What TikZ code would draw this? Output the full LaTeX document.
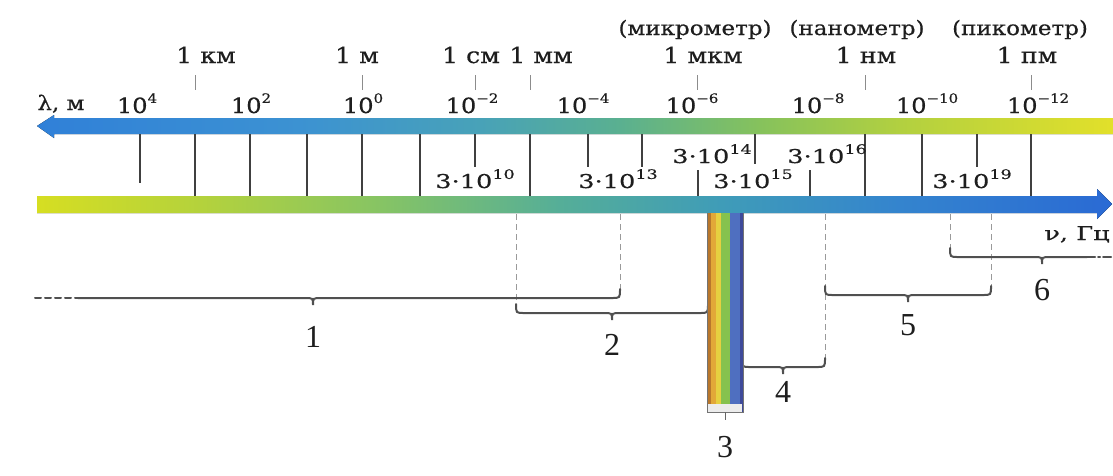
\documentclass[tikz,border=0pt]{standalone}
\usepackage{fontspec}
\setmainfont{DejaVu Serif}[FakeStretch=1.15, FakeBold=0.4]
\newfontfamily\widefont{DejaVu Serif}[FakeStretch=1.35, FakeBold=0.4]
\newfontfamily\numfont{Liberation Serif}
\usetikzlibrary{calc}
\definecolor{lA}{HTML}{3080D8}\definecolor{lB}{HTML}{3C92D2}\definecolor{lC}{HTML}{48A2B8}
\definecolor{lD}{HTML}{5AB090}\definecolor{lE}{HTML}{86C25C}\definecolor{lF}{HTML}{B2D040}\definecolor{lG}{HTML}{E2E02A}
\definecolor{nA}{HTML}{D6DE22}\definecolor{nB}{HTML}{B4D23C}\definecolor{nC}{HTML}{86C464}
\definecolor{nD}{HTML}{55AE98}\definecolor{nE}{HTML}{3F9CB8}\definecolor{nF}{HTML}{3484CE}\definecolor{nG}{HTML}{2A6AD4}
\definecolor{txt}{HTML}{1E1E1E}
\definecolor{brcol}{HTML}{505050}
\definecolor{tickcol}{HTML}{404040}
\definecolor{dashcol}{HTML}{9A9A9A}
\definecolor{sp1}{HTML}{B8772C}\definecolor{sp2}{HTML}{E2A838}\definecolor{sp3}{HTML}{E6D040}
\definecolor{sp4}{HTML}{86C24E}\definecolor{sp5}{HTML}{4F6FC0}\definecolor{sp6}{HTML}{3E4A9A}
\pgfdeclarehorizontalshading{lamshade}{100bp}{color(0bp)=(lA); color(25bp)=(lA); color(37.2bp)=(lB); color(45.6bp)=(lC); color(52.1bp)=(lD); color(58.6bp)=(lE); color(65.1bp)=(lF); color(75bp)=(lG); color(100bp)=(lG)}
\pgfdeclarehorizontalshading{nushade}{100bp}{color(0bp)=(nA); color(25bp)=(nA); color(32.6bp)=(nB); color(41bp)=(nC); color(49.3bp)=(nD); color(56.8bp)=(nE); color(65.1bp)=(nF); color(75bp)=(nG); color(100bp)=(nG)}
\newcommand\fa{\fontsize{20}{24}\selectfont}
\newcommand\fb{\fontsize{22}{26}\selectfont}
\newcommand\fc{\fontsize{21}{25}\selectfont}
\newcommand\fl{\fontsize{20}{24}\selectfont}
\newcommand\fd{\widefont\fontsize{19}{22}\selectfont}
\newcommand\supr[1]{\raisebox{0.48em}{\fontsize{13}{13}\selectfont #1}}
\newcommand\ubr[4]{%
\draw[brc] (#1,{#4-9}) .. controls (#1,#4) and (#1,#4) .. ({#1+8},#4) -- ({#2-8},#4) .. controls (#2,#4) and (#2,#4) .. (#2,{#4+7}) .. controls (#2,#4) and (#2,#4) .. ({#2+8},#4) -- ({#3-8},#4) .. controls (#3,#4) and (#3,#4) .. (#3,{#4-9});}
\begin{document}
\begin{tikzpicture}[x=1pt,y=-1pt,
  lab/.style={inner sep=0pt, anchor=base, text=txt},
  num/.style={inner sep=0pt, anchor=base, text=txt, font=\numfont\fontsize{32}{34}\selectfont},
  tk/.style={draw=tickcol, line width=1.3pt},
  tks/.style={draw=black!45, line width=1pt},
  brc/.style={draw=brcol, line width=2pt, line cap=round},
  dsh/.style={draw=dashcol, line width=1pt, dash pattern=on 6pt off 4pt}]
\useasboundingbox (0,0) rectangle (1113,475);
\fill[white] (0,0) rectangle (1113,475);
% arrows
\fill[shading=lamshade] (37,126) -- (54,115) -- (54,118) -- (1113,118) -- (1113,134) -- (54,134) -- (54,138) -- cycle;
\fill[shading=nushade] (37,196) -- (1097,196) -- (1097,189) -- (1112,204) -- (1097,219) -- (1097,213) -- (37,213) -- cycle;
% ticks between bars
\foreach \x in {195,250,307,362,420,530,865,922,1031} \draw[tk] (\x,134) -- (\x,196);
\draw[tk] (140,134) -- (140,183);
\foreach \x in {475,588,642,977} \draw[tk] (\x,134) -- (\x,167);
\draw[tk] (755,134) -- (755,164);
\foreach \x in {698,810} \draw[tk] (\x,170) -- (\x,196);
% ticks above
\foreach \x in {195,362,475,530,697,865,1031} \draw[tks] (\x,75) -- (\x,90);
% row 1
\node[lab,font=\fa] (mkm) at (695,35) {(микрометр)};
\node[lab,font=\fa] (nm) at (857,35) {(нанометр)};
\node[lab,font=\fa] (pm) at (1020,35) {(пикометр)};
% row 2
\node[lab,font=\fb] (u1) at (206,63) {1 км};
\node[lab,font=\fb] (u2) at (357,63) {1 м};
\node[lab,font=\fb] (u3) at (471,63) {1 см};
\node[lab,font=\fb] (u4) at (541,63) {1 мм};
\node[lab,font=\fb] (u5) at (703,63) {1 мкм};
\node[lab,font=\fb] (u6) at (866,63) {1 нм};
\node[lab,font=\fb] (u7) at (1027,63) {1 пм};
% row 3
\node[lab,font=\fl] (lam) at (61,110) {λ, м};
\node[lab,font=\fc] (w1) at (137,113) {10\supr{4}};
\node[lab,font=\fc] (w2) at (251,113) {10\supr{2}};
\node[lab,font=\fc] (w3) at (363,113) {10\supr{0}};
\node[lab,font=\fc] (w4) at (472,113) {10\supr{−2}};
\node[lab,font=\fc] (w5) at (583,113) {10\supr{−4}};
\node[lab,font=\fc] (w6) at (692,113) {10\supr{−6}};
\node[lab,font=\fc] (w7) at (818,113) {10\supr{−8}};
\node[lab,font=\fc] (w8) at (927,113) {10\supr{−10}};
\node[lab,font=\fc] (w9) at (1038,113) {10\supr{−12}};
% frequencies
\node[lab,font=\fd] (f1) at (475,188) {3·10\supr{10}};
\node[lab,font=\fd] (f2) at (618,188) {3·10\supr{13}};
\node[lab,font=\fd] (f3) at (712,163) {3·10\supr{14}};
\node[lab,font=\fd] (f4) at (753,188) {3·10\supr{15}};
\node[lab,font=\fd] (f5) at (827,163) {3·10\supr{16}};
\node[lab,font=\fd] (f6) at (972,188) {3·10\supr{19}};
\node[lab,font=\fd] (nu) at (1077,240) {ν, Гц};
% dashed guides
\draw[dsh] (516,214) -- (516,304);
\draw[dsh] (620,214) -- (620,289);
\draw[dsh] (825,214) -- (825,358);
\draw[dsh] (991,214) -- (991,286);
\draw[dsh] (950,214) -- (950,248);
% braces
\draw[brc, dash pattern=on 6pt off 4pt] (35,298) -- (78,298);
\draw[brc] (78,298) -- (305,298) .. controls (313,298) and (313,298) .. (313,305) .. controls (313,298) and (313,298) .. (321,298) -- (612,298) .. controls (620,298) and (620,298) .. (620,289);
\ubr{516}{612}{708}{313}
\ubr{742}{783}{825}{367}
\ubr{825}{908}{991}{295}
\draw[brc] (950,248) .. controls (950,257) and (950,257) .. (958,257) -- (1034,257) .. controls (1042,257) and (1042,257) .. (1042,264) .. controls (1042,257) and (1042,257) .. (1050,257) -- (1087,257);
\draw[brc, dash pattern=on 8pt off 3pt on 2pt off 3pt] (1087,257) -- (1113,257);
% visible spectrum
\fill[sp1] (707,213) rectangle (711,412);
\fill[sp2] (711,213) rectangle (716,412);
\fill[sp3] (716,213) rectangle (721,412);
\fill[sp4] (721,213) rectangle (730,412);
\fill[sp5] (730,213) rectangle (740,412);
\fill[sp6] (740,213) rectangle (743,412);
\fill[white!85!gray] (708,404) rectangle (742,412);
\draw[black!55, line width=0.9pt] (707,213) -- (707,412) -- (743,412) -- (743,213);
\draw[black!60, line width=1pt] (725,412) -- (725,420);
% numbers
\node[num] (n1) at (313,347) {1};
\node[num] (n2) at (612,355) {2};
\node[num] (n3) at (725,457) {3};
\node[num] (n4) at (783,402) {4};
\node[num] (n5) at (908,335) {5};
\node[num] (n6) at (1042,300) {6};
\end{tikzpicture}
\end{document}
